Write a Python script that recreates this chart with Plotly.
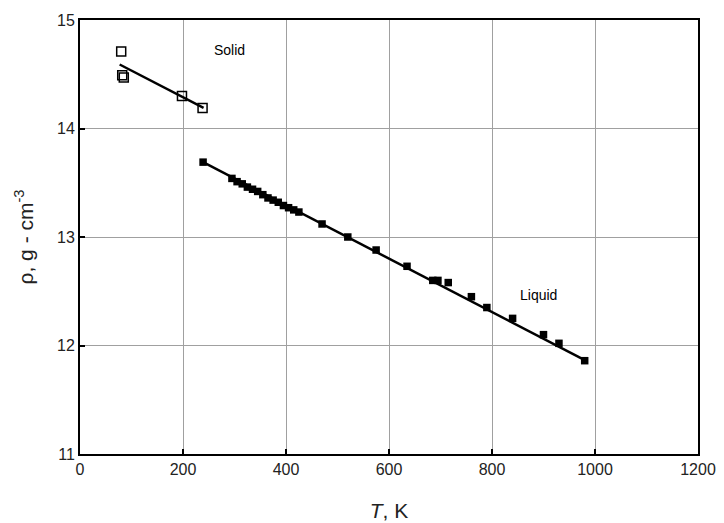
import plotly.graph_objects as go

solid_T = [80, 82, 85, 198, 238]
solid_rho = [14.71, 14.49, 14.47, 14.30, 14.19]
solid_fit_T = [77, 240]
solid_fit_rho = [14.59, 14.19]

liquid_T = [239, 295, 305, 315, 325, 335, 345, 355, 365, 375, 385, 395, 405, 415, 425,
            470, 520, 575, 635, 685, 695, 715, 760, 790, 840, 900, 930, 980]
liquid_rho = [13.69, 13.54, 13.51, 13.49, 13.46, 13.44, 13.42, 13.39, 13.36, 13.34, 13.32, 13.29, 13.27, 13.25, 13.23,
              13.12, 13.00, 12.88, 12.73, 12.60, 12.60, 12.58, 12.45, 12.35, 12.25, 12.10, 12.02, 11.86]
liquid_fit_T = [239, 982]
liquid_fit_rho = [13.69, 11.86]

x_ticks = [0, 200, 400, 600, 800, 1000, 1200]
y_ticks = [11, 12, 13, 14, 15]

FONT = "Liberation Sans, Arial"

fig = go.Figure()
fig.add_trace(go.Scatter(x=solid_fit_T, y=solid_fit_rho, mode="lines",
                         line=dict(color="black", width=2.5), showlegend=False))
fig.add_trace(go.Scatter(x=liquid_fit_T, y=liquid_fit_rho, mode="lines",
                         line=dict(color="black", width=2.5), showlegend=False))
fig.add_trace(go.Scatter(x=solid_T, y=solid_rho, mode="markers",
                         marker=dict(symbol="square-open", size=9, color="black", line=dict(width=1.5)),
                         showlegend=False))
fig.add_trace(go.Scatter(x=liquid_T, y=liquid_rho, mode="markers",
                         marker=dict(symbol="square", size=7.5, color="black"),
                         showlegend=False))

fig.add_annotation(x=290, y=14.72, text="Solid", showarrow=False,
                   font=dict(family=FONT, size=14, color="black"))
fig.add_annotation(x=890, y=12.47, text="Liquid", showarrow=False,
                   font=dict(family=FONT, size=14, color="black"))

axis_common = dict(showline=True, linecolor="black", linewidth=2, mirror=True,
                   showgrid=True, gridcolor="#a0a0a0", gridwidth=1,
                   ticks="inside", ticklen=5, tickwidth=2, tickcolor="black",
                   zeroline=False, automargin=False,
                   tickfont=dict(family=FONT, size=16, color="#222"))

fig.update_xaxes(range=[0, 1200], tickvals=x_ticks,
                 title=dict(text="<i>T</i>, K", font=dict(family=FONT, size=21, color="#222"),
                            standoff=26),
                 **axis_common)
fig.update_yaxes(range=[11, 15], tickvals=y_ticks,
                 title=dict(text="ρ, g - cm<sup>-3</sup>", font=dict(family=FONT, size=21, color="#222"),
                            standoff=18),
                 **axis_common)

fig.update_layout(width=724, height=523, plot_bgcolor="white", paper_bgcolor="white",
                  margin=dict(l=80, r=26, t=20, b=69))
fig.write_html("out.html", config={"displayModeBar": False},
               post_script="document.body.style.margin='0px';")
